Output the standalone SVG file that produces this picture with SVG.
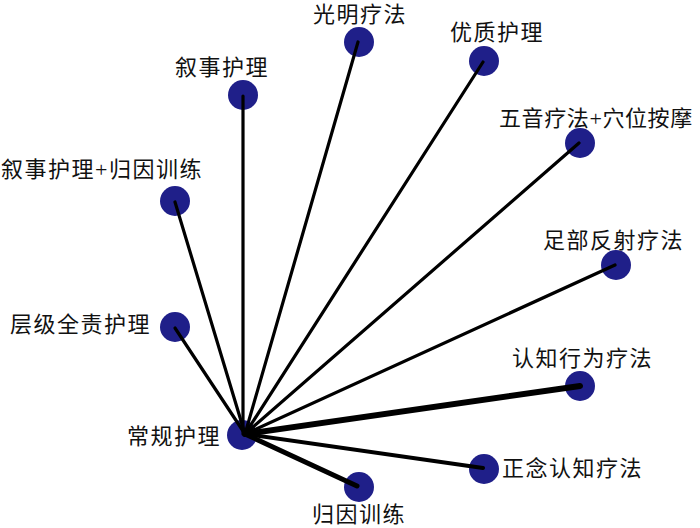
<svg xmlns="http://www.w3.org/2000/svg" width="700" height="528" viewBox="0 0 700 528">
<style>
.n{fill:#1f1f89}
.t{font-family:"Liberation Serif","Noto Sans CJK SC",serif;font-size:22px;fill:#111;letter-spacing:1.5px}
.e{stroke:#000;stroke-linecap:round;fill:none}
</style>
<rect width="700" height="528" fill="#fff"/>
<g id="nodes">
<g id="n-changgui"><circle class="n" cx="242" cy="435" r="15"/><text class="t" x="127" y="443.5">常规护理</text></g>
<g id="n-guiyin"><circle class="n" cx="359" cy="487" r="15"/><text class="t" x="312" y="522">归因训练</text></g>
<g id="n-zhengnian"><circle class="n" cx="484" cy="469" r="15"/><text class="t" x="502" y="476">正念认知疗法</text></g>
<g id="n-renzhi"><circle class="n" cx="580" cy="386" r="15"/><text class="t" x="512" y="366">认知行为疗法</text></g>
<g id="n-zubu"><circle class="n" cx="616" cy="265" r="15"/><text class="t" x="543" y="247.5">足部反射疗法</text></g>
<g id="n-wuyin"><circle class="n" cx="580" cy="143" r="15"/><text class="t" x="499" y="126" style="letter-spacing:0.6px">五音疗法+穴位按摩</text></g>
<g id="n-youzhi"><circle class="n" cx="484" cy="61" r="15"/><text class="t" x="450" y="39.5">优质护理</text></g>
<g id="n-guangming"><circle class="n" cx="359" cy="42" r="15"/><text class="t" x="313" y="21.5">光明疗法</text></g>
<g id="n-xushi"><circle class="n" cx="243" cy="95" r="15"/><text class="t" x="175" y="75">叙事护理</text></g>
<g id="n-xushiguiyin"><circle class="n" cx="175" cy="201" r="15"/><text class="t" x="1" y="176.5">叙事护理+归因训练</text></g>
<g id="n-cengji"><circle class="n" cx="175" cy="327" r="15"/><text class="t" x="10" y="331.5">层级全责护理</text></g>
</g>
<g id="connectors">
<line class="e" stroke-width="3.2" x1="243" y1="434" x2="243" y2="96"/>
<line class="e" stroke-width="3.2" x1="245" y1="434" x2="358" y2="42"/>
<line class="e" stroke-width="3.2" x1="245" y1="434" x2="483" y2="62"/>
<line class="e" stroke-width="3.2" x1="245" y1="434" x2="579" y2="143"/>
<line class="e" stroke-width="3.2" x1="245" y1="434" x2="615" y2="265"/>
<line class="e" stroke-width="6" x1="245" y1="434" x2="580" y2="386"/>
<line class="e" stroke-width="4" x1="245" y1="434" x2="483" y2="468"/>
<line class="e" stroke-width="5" x1="245" y1="434" x2="357" y2="486"/>
<line class="e" stroke-width="3.2" x1="245" y1="434" x2="175" y2="202"/>
<line class="e" stroke-width="3.2" x1="245" y1="434" x2="175" y2="328"/>
</g>
</svg>
